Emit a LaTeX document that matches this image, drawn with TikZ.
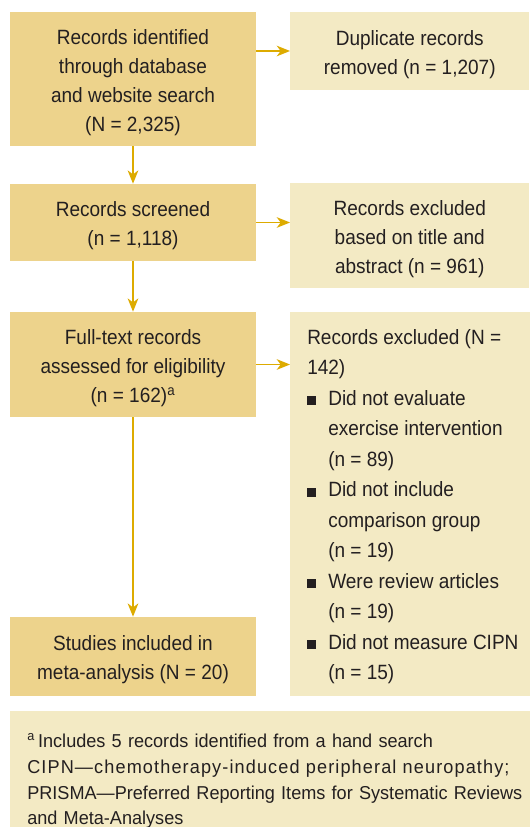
\documentclass[tikz,border=0pt]{standalone}
\usepackage{fontspec}
\setmainfont{Liberation Sans}[FakeStretch=0.92]
\newfontfamily\notefont{Liberation Sans}[FakeStretch=0.97]
\usetikzlibrary{arrows.meta}

\definecolor{boxdark}{RGB}{237,211,140}
\definecolor{boxlight}{RGB}{243,234,196}
\definecolor{flowline}{RGB}{221,171,0}
\definecolor{inktext}{RGB}{35,31,32}

\newcommand{\topgap}{\rule{0pt}{16.5pt}}
\newcommand{\sqbullet}{\makebox[15.75pt][l]{\rule{6.75pt}{6.75pt}}}
\newcommand{\sqindent}{\hspace*{15.75pt}}

\begin{document}
\begin{tikzpicture}[x=0.75pt,y=0.75pt,yscale=-1,xscale=1,
  every node/.style={text=inktext,inner sep=0pt,font=\fontsize{15.5pt}{21.75pt}\selectfont},
  mainbox/.style={fill=boxdark,minimum width=184.5pt,align=center},
  sidebox/.style={fill=boxlight,minimum width=179.25pt,align=center,anchor=west},
  flow/.style={draw=flowline,line width=1pt,-{Stealth[length=10pt,width=8pt,inset=3pt]}}]
%set diagram left start at 0, and has height of 827
\path[use as bounding box] (0,0) rectangle (529,827);

% Left column
\node[mainbox,minimum height=100.5pt] (ident) at (133,79) {\topgap Records identified\\through database\\and website search\\(N = 2,325)};
\node[mainbox,minimum height=57.75pt] (screen) at (133,222.5) {\topgap Records screened\\(n = 1,118)};
\node[mainbox,minimum height=78.75pt] (full) at (133,364.5) {\topgap Full-text records\\assessed for eligibility\\(n = 162)\textsuperscript{a}};
\node[mainbox,minimum height=59.25pt] (incl) at (133,656.5) {\topgap Studies included in\\meta-analysis (N = 20)};

% Right column
\node[sidebox,minimum height=58.5pt] (dup) at (290,51) {\topgap Duplicate records\\removed (n = 1,207)};
\node[sidebox,minimum height=78.75pt] (excl) at (290,235.5) {\topgap Records excluded\\based on title and\\abstract (n = 961)};
\node[sidebox,minimum height=288pt,align=left,inner xsep=12.75pt,
  font=\fontsize{15.5pt}{22.85pt}\selectfont] (reasons) at (290,504) {\rule{0pt}{15.3pt}Records excluded (N =\\
142)\\
\sqbullet Did not evaluate\\
\sqindent exercise intervention\\
\sqindent (n = 89)\\
\sqbullet Did not include\\
\sqindent comparison group\\
\sqindent (n = 19)\\
\sqbullet Were review articles\\
\sqindent (n = 19)\\
\sqbullet Did not measure CIPN\\
\sqindent (n = 15)};

% Footnote
\node[fill=boxlight,anchor=north west,text width=367.5pt,inner xsep=12.75pt,inner ysep=16.5pt,align=left,
  font=\notefont\fontsize{14pt}{19.4pt}\selectfont] (note) at (10,711) {\textsuperscript{a}\,Includes 5 records identified from a hand search\\
\makebox[367.5pt][s]{\addfontfeature{LetterSpace=6}CIPN—chemotherapy-induced peripheral neuropathy;}\\
\makebox[367.5pt][s]{PRISMA—Preferred Reporting Items for Systematic Reviews}\\
and Meta-Analyses};

% Connectors
\draw[flow] (dup.west -| ident.east) -- (dup.west);
\draw[flow] (ident.south) -- (screen.north);
\draw[flow] (screen.east) -- (screen.east -| excl.west);
\draw[flow] (screen.south) -- (full.north);
\draw[flow] (full.east) -- (full.east -| reasons.west);
\draw[flow] (full.south) -- (incl.north);

\end{tikzpicture}
\end{document}
